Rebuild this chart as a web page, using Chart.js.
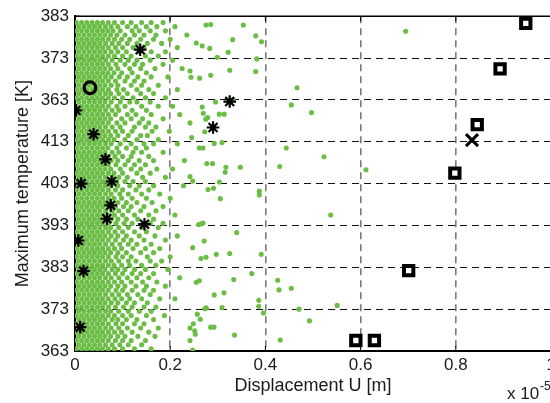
<!DOCTYPE html>
<html>
<head>
<meta charset="utf-8">
<script src="https://cdn.jsdelivr.net/npm/chart.js@4.4.1/dist/chart.umd.min.js"></script>
<style>
  html, body { margin: 0; padding: 0; overflow: hidden; background: #fff; }
  #wrap { width: 600px; height: 403px; position: relative; }
</style>
</head>
<body>
<div id="wrap"><canvas id="scatter"></canvas></div>
<script>
// axis labels
const xTickLabels = ['0', '0.2', '0.4', '0.6', '0.8', '1'];
const yTickLabels = ['363', '373', '383', '393', '403', '413', '363', '373', '383'];

// green cloud, dense part: each row is [y, x, x, x ...]
const denseRows = [
  [441.5, .003,.014,.025,.036,.047,.058,.07,.083,.10,.118,.14,.16,.185],
  [440.5, .008,.019,.030,.041,.052,.064,.076,.09,.11,.128,.15,.172,.21],
  [439.5, .003,.014,.025,.036,.047,.058,.069,.08,.095,.12,.135,.158,.19],
  [438.5, .008,.019,.030,.041,.052,.063,.075,.088,.105,.125,.145,.17,.235],
  [437.5, .003,.014,.025,.036,.047,.058,.07,.083,.098,.115,.138,.165,.20],
  [436.5, .008,.019,.030,.041,.052,.064,.078,.092,.11,.13,.152,.182],
  [435.5, .003,.014,.025,.036,.047,.058,.07,.085,.1,.122,.145,.215],
  [434.5, .008,.019,.030,.041,.052,.063,.076,.09,.108,.135,.16,.19],
  [433.5, .003,.014,.025,.036,.047,.058,.07,.083,.1,.118,.148,.175],
  [432.5, .008,.019,.030,.041,.052,.064,.078,.095,.112,.13,.158,.205],
  [431.5, .003,.014,.025,.036,.047,.058,.07,.086,.105,.125,.142,.185],
  [430.5, .008,.019,.030,.041,.052,.063,.075,.09,.115,.138,.168,.225],
  [429.5, .003,.014,.025,.036,.047,.058,.069,.082,.098,.12,.15],
  [428.5, .008,.019,.030,.041,.052,.064,.076,.093,.11,.132,.16,.195],
  [427.5, .003,.014,.025,.036,.047,.058,.07,.085,.105,.125,.145],
  [426.5, .008,.019,.030,.041,.052,.063,.076,.09,.118,.14,.175],
  [425.5, .003,.014,.025,.036,.047,.058,.07,.088,.102,.13,.155,.215],
  [424.5, .008,.019,.030,.041,.052,.064,.075,.092,.11,.138,.165],
  [423.5, .003,.014,.025,.036,.047,.058,.07,.083,.1,.122,.148,.19],
  [422.5, .008,.019,.030,.041,.052,.063,.076,.095,.115,.13,.158],
  [421.5, .003,.014,.025,.036,.047,.058,.07,.088,.105,.14,.175,.205],
  [420.5, .008,.019,.030,.041,.052,.064,.078,.092,.12,.15],
  [419.5, .003,.014,.025,.036,.047,.058,.07,.085,.11,.128,.16,.22],
  [418.5, .008,.019,.030,.041,.052,.063,.075,.098,.118,.142,.185],
  [417.5, .003,.014,.025,.036,.047,.058,.07,.088,.105,.135,.155],
  [416.5, .008,.019,.030,.041,.052,.064,.078,.095,.125,.148,.17],
  [415.5, .003,.014,.025,.036,.047,.058,.07,.085,.1,.12,.162,.198],
  [414.5, .008,.019,.030,.041,.052,.063,.075,.09,.112,.138,.152],
  [413.5, .003,.014,.025,.036,.047,.058,.07,.082,.105,.13,.175],
  [412.5, .008,.019,.030,.041,.052,.064,.076,.095,.118,.145,.165,.215],
  [411.5, .003,.014,.025,.036,.047,.058,.069,.088,.108,.128,.15],
  [410.5, .008,.019,.030,.041,.052,.063,.078,.092,.122,.14,.185],
  [409.5, .003,.014,.025,.036,.047,.058,.07,.084,.1,.118,.155],
  [408.5, .008,.019,.030,.041,.052,.064,.076,.09,.112,.135,.165,.23],
  [407.5, .003,.014,.025,.036,.047,.058,.07,.086,.105,.125,.148],
  [406.5, .008,.019,.030,.041,.052,.063,.075,.095,.118,.138,.172,.205],
  [405.5, .003,.014,.025,.036,.047,.058,.07,.082,.1,.13,.158],
  [404.5, .008,.019,.030,.041,.052,.064,.078,.092,.11,.142,.19],
  [403.5, .003,.014,.025,.036,.047,.058,.07,.088,.105,.122,.148],
  [402.5, .008,.019,.030,.041,.052,.063,.076,.09,.115,.135,.165,.228],
  [401.5, .003,.014,.025,.036,.047,.058,.07,.085,.1,.128,.155],
  [400.5, .008,.019,.030,.041,.052,.064,.076,.094,.112,.14,.178],
  [399.5, .003,.014,.025,.036,.047,.058,.07,.082,.098,.12,.15,.2],
  [398.5, .008,.019,.030,.041,.052,.063,.075,.09,.108,.13,.162],
  [397.5, .003,.014,.025,.036,.047,.058,.07,.085,.102,.118,.145,.185],
  [396.5, .008,.019,.030,.041,.052,.064,.078,.092,.112,.138,.17],
  [395.5, .003,.014,.025,.036,.047,.058,.07,.083,.1,.125,.155,.21],
  [394.5, .008,.019,.030,.041,.052,.063,.076,.09,.108,.132,.165],
  [393.5, .003,.014,.025,.036,.047,.058,.07,.086,.103,.12,.158,.185],
  [392.5, .008,.019,.030,.041,.052,.064,.075,.092,.112,.14,.175],
  [391.5, .003,.014,.025,.036,.047,.058,.07,.084,.1,.125,.15],
  [390.5, .008,.019,.030,.041,.052,.063,.076,.09,.108,.135,.168,.215],
  [389.5, .003,.014,.025,.036,.047,.058,.07,.085,.102,.118,.145,.19],
  [388.5, .008,.019,.030,.041,.052,.064,.078,.094,.112,.13,.16],
  [387.5, .003,.014,.025,.036,.047,.058,.07,.083,.098,.122,.148,.178],
  [386.5, .008,.019,.030,.041,.052,.063,.075,.09,.108,.138,.165],
  [385.5, .003,.014,.025,.036,.047,.058,.07,.086,.1,.118,.152,.2],
  [384.5, .008,.019,.030,.041,.052,.064,.076,.092,.112,.128,.158,.182],
  [383.5, .003,.014,.025,.036,.047,.058,.07,.082,.098,.115,.14,.17],
  [382.5, .008,.019,.030,.041,.052,.063,.078,.09,.105,.125,.148,.195],
  [381.5, .003,.014,.025,.036,.047,.058,.07,.085,.1,.12,.138,.165],
  [380.5, .008,.019,.030,.041,.052,.064,.076,.092,.11,.13,.155,.22],
  [379.5, .003,.014,.025,.036,.047,.058,.07,.083,.098,.118,.142,.172],
  [378.5, .008,.019,.030,.041,.052,.063,.075,.09,.105,.128,.15,.19],
  [377.5, .003,.014,.025,.036,.047,.058,.07,.086,.1,.12,.145,.165],
  [376.5, .008,.019,.030,.041,.052,.064,.078,.092,.11,.132,.158],
  [375.5, .003,.014,.025,.036,.047,.058,.07,.084,.098,.115,.14,.178,.21],
  [374.5, .008,.019,.030,.041,.052,.063,.076,.09,.108,.125,.152],
  [373.5, .003,.014,.025,.036,.047,.058,.07,.085,.102,.12,.145,.17],
  [372.5, .008,.019,.030,.041,.052,.064,.075,.092,.112,.135,.16],
  [371.5, .003,.014,.025,.036,.047,.058,.07,.083,.1,.118,.15,.188],
  [370.5, .008,.019,.030,.041,.052,.063,.078,.09,.108,.13,.165],
  [369.5, .003,.014,.025,.036,.047,.058,.07,.086,.1,.125,.145],
  [368.5, .008,.019,.030,.041,.052,.064,.076,.092,.11,.138,.175],
  [367.5, .003,.014,.025,.036,.047,.058,.07,.083,.098,.12,.155],
  [366.5, .008,.019,.030,.041,.052,.063,.075,.09,.105,.132,.168],
  [365.5, .003,.014,.025,.036,.047,.058,.07,.085,.1,.118,.148],
  [364.5, .008,.019,.030,.041,.052,.064,.078,.094,.112,.14],
  [363.5, .003,.014,.025,.036,.047,.058,.07,.083,.1,.125,.16]
];

// green cloud, scattered part: [x, y]
const sparseDots = [
  [.2548,436.6],[.2752,440.9],[.2851,441.0],[.3536,440.9],[.3796,438.3],[.3313,437.4],
  [.3918,436.9],[.2672,435.9],[.2830,435.3],[.3218,434.4],[.2989,433.2],[.3817,432.8],
  [.2416,429.9],[.3252,430.1],[.3796,429.8],[.2437,428.4],[.2618,428.2],[.2851,428.9],
  [.4664,425.9],[.2952,422.5],[.3319,423.1],[.2672,421.3],[.4544,421.8],[.2695,419.8],
  [.3032,419.6],[.3134,419.6],[.4968,420.0],[.2788,418.8],[.2748,418.4],[.2416,417.5],
  [.2727,415.4],[.2452,414.0],[.2926,412.6],[.3088,412.8],[.2611,411.5],[.2689,411.5],
  [.4439,411.5],[.5231,409.4],[.2769,407.8],[.2889,407.8],[.3172,406.9],[.3473,406.9],
  [.3155,405.7],[.4300,407.1],[.6113,406.3],[.6947,439.4],[.2416,404.7],[.2473,403.6],
  [.3032,403.4],[.2794,401.6],[.2910,401.9],[.3053,399.4],[.3872,401.2],[.3872,400.3],
  [.5372,395.5],[.2599,393.2],[.2653,393.4],[.2689,393.6],[.3397,391.3],[.2714,389.3],
  [.2473,387.7],[.2968,386.1],[.3250,386.3],[.3912,386.1],[.2647,385.1],[.2752,385.4],
  [.3714,381.5],[.3334,380.1],[.2548,379.4],[.2611,379.8],[.4258,379.9],[.4286,377.6],
  [.4544,378.0],[.2926,376.4],[.3130,376.9],[.3861,375.1],[.3859,373.7],[.3088,373.4],
  [.2727,373.1],[.2758,373.3],[.4706,373.0],[.5508,373.9],[.3960,372.1],[.2569,371.8],
  [.2632,370.6],[.4926,370.2],[.2485,369.5],[.2416,368.5],[.2515,367.8],[.2527,367.0],
  [.2851,368.7],[.2920,368.7],[.3351,366.8],[.4313,365.6],[.2416,365.5],[.2473,363.2]
];

// black markers
const starX = [.137, .002, .039, .064, .013, .077, .075, .067, .146, .007, .018, .011, .325, .290];
const starY = [435.0, 420.5, 414.8, 408.8, 403.0, 403.5, 397.8, 394.6, 393.3, 389.4, 382.1, 368.7, 422.6, 416.4];
const squareX = [.947, .893, .845, .798, .701, .590, .629];
const squareY = [441.3, 430.4, 417.1, 405.5, 382.2, 365.5, 365.5];
const circleX = [.0315];
const circleY = [425.9];
const crossX = [.834];
const crossY = [413.4];

const pts = (xs, ys) => xs.map((x, i) => ({x: x, y: ys[i]}));

const green = [];
denseRows.forEach(r => { for (let j = 1; j < r.length; j++) green.push({x: r[j], y: r[0]}); });
sparseDots.forEach(p => green.push({x: p[0], y: p[1]}));

Chart.defaults.font.family = '"Liberation Sans", Arial, Helvetica, sans-serif';
Chart.defaults.color = '#1a1a1a';

const frame = {
  id: 'frame',
  beforeDatasetsDraw(chart) {
    const {ctx, chartArea: a, scales: {x, y}} = chart;
    ctx.save();
    ctx.strokeStyle = '#000';
    ctx.lineWidth = 1;
    y.ticks.forEach(t => {
      const py = y.getPixelForValue(t.value);
      ctx.beginPath(); ctx.moveTo(a.left, py); ctx.lineTo(a.left + 5, py); ctx.stroke();
    });
    x.ticks.forEach(t => {
      const px = x.getPixelForValue(t.value);
      ctx.beginPath(); ctx.moveTo(px, a.bottom); ctx.lineTo(px, a.bottom - 5);
      ctx.moveTo(px, a.top); ctx.lineTo(px, a.top + 5); ctx.stroke();
    });
    ctx.restore();
  },
  afterDatasetsDraw(chart) {
    const {ctx, chartArea: a} = chart;
    ctx.save();
    ctx.strokeStyle = '#000';
    ctx.lineWidth = 1.5;
    ctx.beginPath();
    ctx.moveTo(a.left, a.top); ctx.lineTo(a.right, a.top); ctx.lineTo(a.right, a.bottom);
    ctx.stroke();
    // exponent label of the x axis
    ctx.fillStyle = '#1a1a1a';
    ctx.textBaseline = 'alphabetic';
    ctx.font = '17px "Liberation Sans", Arial, sans-serif';
    ctx.fillText('x 10', 507, 399);
    ctx.font = '12px "Liberation Sans", Arial, sans-serif';
    ctx.fillText('-5', 540, 390);
    ctx.restore();
  }
};

new Chart(document.getElementById('scatter'), {
  type: 'scatter',
  data: {
    datasets: [
      { label: 'star', data: pts(starX, starY), pointStyle: 'star', pointRadius: 6.3,
        borderColor: '#000', backgroundColor: '#000', pointBorderWidth: 2.2, order: 1 },
      { label: 'square', data: pts(squareX, squareY), pointStyle: 'rect', pointRadius: 6.6,
        borderColor: '#000', backgroundColor: '#fff', pointBorderWidth: 4, order: 1 },
      { label: 'circle', data: pts(circleX, circleY), pointStyle: 'circle', pointRadius: 5.8,
        borderColor: '#000', backgroundColor: 'rgba(0,0,0,0)', pointBorderWidth: 3.2, order: 1 },
      { label: 'cross', data: pts(crossX, crossY), pointStyle: 'crossRot', pointRadius: 8.5,
        borderColor: '#000', backgroundColor: '#000', pointBorderWidth: 3, order: 1 },
      { label: 'samples', data: green, pointStyle: 'circle', pointRadius: 2.55,
        borderWidth: 0, pointBorderWidth: 0, backgroundColor: '#6cbd45', order: 5 }
    ]
  },
  options: {
    responsive: true,
    maintainAspectRatio: false,
    animation: false,
    events: [],
    layout: { padding: { left: 0, top: 15, right: 49, bottom: 0 } },
    plugins: { legend: { display: false }, tooltip: { enabled: false } },
    scales: {
      x: {
        type: 'linear', min: 0, max: 1,
        afterFit: s => { s.height = 52; },
        ticks: { stepSize: 0.2, padding: 4, font: { size: 17 }, color: '#1a1a1a',
                 callback: (v, i) => xTickLabels[i] },
        grid: { drawTicks: false, lineWidth: 1.6,
                color: c => (c.index === 0 || c.index === 5) ? 'rgba(0,0,0,0)' : '#7a7a7a' },
        border: { display: true, color: '#000', width: 2, dash: [7, 5] },
        title: { display: true, text: 'Displacement U [m]', font: { size: 18 }, color: '#1a1a1a',
                 padding: { top: 0, bottom: 6 } }
      },
      y: {
        type: 'linear', min: 363, max: 443,
        afterFit: s => { s.width = 75; },
        ticks: { stepSize: 10, padding: 6, font: { size: 17 }, color: '#1a1a1a',
                 callback: (v, i) => yTickLabels[i] },
        grid: { drawTicks: false, lineWidth: 1,
                color: c => (c.index === 0 || c.index === 8) ? 'rgba(0,0,0,0)' : '#111' },
        border: { display: true, color: '#000', width: 2, dash: [7, 5] },
        title: { display: true, text: 'Maximum temperature [K]', font: { size: 18 }, color: '#1a1a1a',
                 padding: { top: 12, bottom: 0 } }
      }
    }
  },
  plugins: [frame]
});
</script>
</body>
</html>
